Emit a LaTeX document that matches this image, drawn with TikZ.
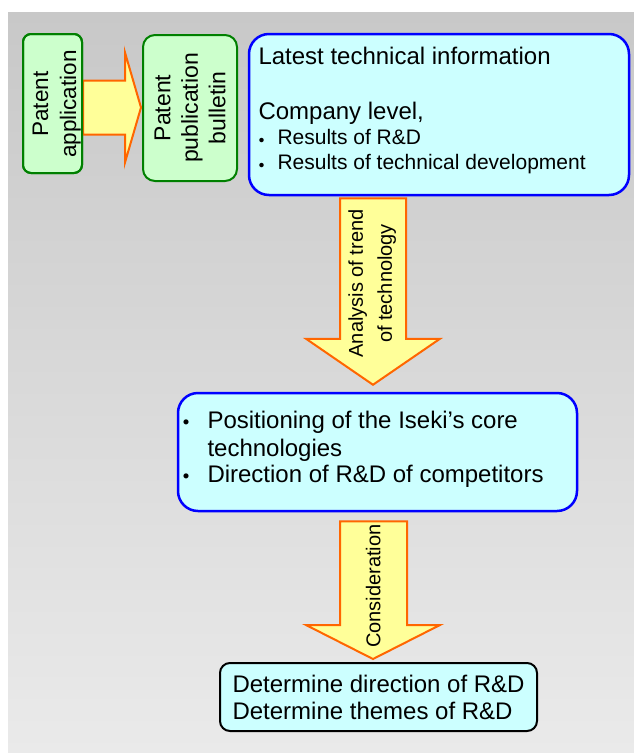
\documentclass[tikz,border=0pt]{standalone}
\usepackage{fontspec}
\setmainfont{Liberation Sans}
\newfontfamily\cjkfont{Noto Sans CJK JP}
\usetikzlibrary{calc}
\definecolor{bgtop}{HTML}{C8C8C8}
\definecolor{bgbot}{HTML}{EAEAEA}
\definecolor{greenfill}{HTML}{CCFFCC}
\definecolor{greenline}{HTML}{008000}
\definecolor{bluefill}{HTML}{CCFFFF}
\definecolor{arrowfill}{HTML}{FFFF99}
\definecolor{arrowline}{HTML}{FF6600}
\newcommand{\smallbul}{\llap{\raisebox{-4.5pt}{\cjkfont ・}\hspace{5.1pt}}}
\newcommand{\bigbul}{\llap{\raisebox{-3pt}{\cjkfont ・}\hspace{8.6pt}}}
\begin{document}
\begin{tikzpicture}[x=1pt,y=-1pt,
  greenbox/.style={draw=greenline, fill=greenfill, line width=2pt, rounded corners=#1, inner sep=0pt},
  bluebox/.style={draw=blue, fill=bluefill, line width=2.5pt, rounded corners=#1, inner sep=0pt},
  blackbox/.style={draw=black, fill=bluefill, line width=2pt, rounded corners=#1, inner sep=0pt},
  blockarrow/.style={draw=arrowline, fill=arrowfill, line width=2pt, line join=miter},
  txtbig/.style={font=\fontsize{24}{27.5}\selectfont, inner sep=0pt, anchor=base west},
  txtsmall/.style={font=\fontsize{21}{25}\selectfont, inner sep=0pt, anchor=base west},
  vlabel/.style={rotate=90, align=center, inner sep=0pt}]
\useasboundingbox (0,0) rectangle (634,753);
\shade[top color=bgtop, bottom color=bgbot] (8,12) rectangle (634,753);

% boxes
\node[greenbox=8pt, minimum width=59pt, minimum height=139pt] (app) at (52.5,103.5) {};
\node[greenbox=12pt, minimum width=94pt, minimum height=146pt] (pub) at (190,108) {};
\node[bluebox=20pt, minimum width=380pt, minimum height=161pt] (info) at (439,114.5) {};
\node[bluebox=20pt, minimum width=399pt, minimum height=118pt] (pos) at (377.5,452) {};
\node[blackbox=10pt, minimum width=317pt, minimum height=68pt] (det) at (378.5,697) {};

% block arrows
\coordinate (a1s) at ($(app.east)+(0,4)$);
\coordinate (a1t) at ($(pub.west)+(-1,-0.5)$);
\draw[blockarrow] ($(a1s)+(0,-27)$) -- ($(a1t)+(-16,-27)$) -- ($(a1t)+(-16,-55)$) -- (a1t)
  -- ($(a1t)+(-16,55)$) -- ($(a1t)+(-16,27)$) -- ($(a1s)+(0,27)$) -- cycle;
\node[greenbox=8pt, minimum width=59pt, minimum height=139pt, fill=none] (appedge) at (app) {};

\coordinate (a2s) at ($(info.south)+(-66,2)$);
\coordinate (a2t) at ($(pos.north)+(-4.5,-7)$);
\draw[blockarrow] ($(a2s)+(-33,0)$) -- ($(a2s)+(33,0)$) -- ($(a2t)+(33,-46)$) -- ($(a2t)+(67,-46)$)
  -- (a2t) -- ($(a2t)+(-67,-46)$) -- ($(a2t)+(-33,-46)$) -- cycle;

\coordinate (a3s) at ($(pos.south)+(-4.5,9)$);
\coordinate (a3t) at ($(det.north)+(-5.5,-3)$);
\draw[blockarrow] ($(a3s)+(-33,0)$) -- ($(a3s)+(34,0)$) -- ($(a3t)+(34,-34)$) -- ($(a3t)+(67,-34)$)
  -- (a3t) -- ($(a3t)+(-67,-34)$) -- ($(a3t)+(-33,-34)$) -- cycle;

% rotated labels
\node[vlabel, font=\fontsize{22.5}{28}\selectfont] (apptext) at (56.7,104) {Patent\\application};
\node[vlabel, font=\fontsize{23}{27.5}\selectfont] (pubtext) at (190,108) {Patent\\publication\\bulletin};
\node[vlabel, font=\fontsize{20}{29}\selectfont] (a2lab) at (372.2,283.5) {Analysis of trend\\of technology};
\node[vlabel, font=\fontsize{20}{24}\selectfont] (a3lab) at (373.3,586) {Consideration};

% info box text
\node[txtbig] (la1) at (258.3,64.3) {Latest technical information};
\node[txtbig] (la2) at (258.3,119.3) {Company level,};
\node[txtsmall] (la3) at (277.3,144.3) {\smallbul Results of R\&D};
\node[txtsmall] (la4) at (277.3,169) {\smallbul Results of technical development};

% positioning box text
\node[txtbig] (pb1) at (207.3,428.3) {\bigbul Positioning of the Iseki’s core};
\node[txtbig] (pb2) at (207.3,456) {technologies};
\node[txtbig] (pb3) at (207.3,482.7) {\bigbul Direction of R\&D of competitors};

% determine box text
\node[txtbig] (dc1) at (232.3,692.3) {Determine direction of R\&D};
\node[txtbig] (dc2) at (232.3,719) {Determine themes of R\&D};
\end{tikzpicture}
\end{document}
